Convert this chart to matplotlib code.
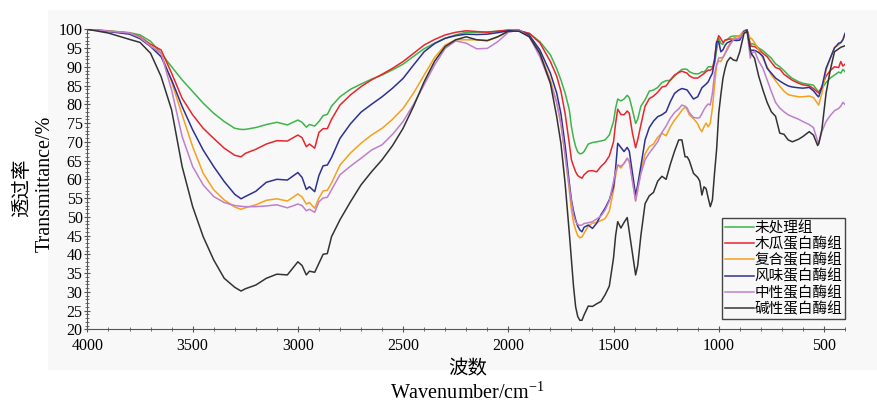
import matplotlib
matplotlib.use('Agg')
import matplotlib.pyplot as plt
from matplotlib.patches import Rectangle
from matplotlib.ticker import MultipleLocator

plt.rcParams['font.family'] = ['Liberation Serif', 'Noto Sans CJK SC']
plt.rcParams['mathtext.fontset'] = 'custom'
plt.rcParams['mathtext.rm'] = 'Liberation Serif'

# wavenumber grid (cm-1)
wn = [4000, 3900, 3800, 3750, 3700, 3650, 3600, 3550, 3500, 3450, 3400, 3350, 3300, 3270, 3250, 3200,
      3150, 3100, 3050, 3000, 2980, 2960, 2945, 2920, 2900, 2880, 2860, 2840, 2800, 2750, 2700, 2650,
      2600, 2550, 2500, 2450, 2400, 2350, 2300, 2250, 2200, 2150, 2100, 2050, 2000, 1950, 1900, 1850,
      1800, 1770, 1750, 1730, 1710, 1700, 1690, 1680, 1670, 1660, 1650, 1640, 1620, 1600, 1580, 1560,
      1540, 1520, 1500, 1490, 1480, 1465, 1450, 1435, 1425, 1410, 1395, 1385, 1370, 1350, 1330, 1310,
      1290, 1270, 1250, 1230, 1210, 1190, 1175, 1160, 1150, 1140, 1120, 1100, 1090, 1080, 1070, 1060,
      1050, 1040, 1030, 1020, 1010, 1000, 990, 980, 970, 960, 945, 930, 915, 900, 880, 865, 850, 845,
      830, 810, 790, 770, 750, 730, 710, 690, 670, 650, 620, 600, 570, 550, 530, 525, 510, 490, 470,
      450, 430, 420, 410, 400]

green = [100, 99.6, 99.1, 98.5, 96.8, 93.6, 90, 86.5, 83.4, 80.3, 77.6, 75.4, 73.6, 73.3, 73.3, 73.8,
         74.6, 75.2, 74.5, 75.8, 75.2, 73.9, 74.6, 74.2, 75.4, 77.0, 77.3, 79.5, 82.0, 84.0, 85.4, 86.7,
         87.8, 89.2, 90.7, 92.8, 94.8, 96.3, 97.6, 98.5, 99.2, 99.2, 99.3, 99.5, 99.7, 99.6, 98.9, 96.7,
         93.2, 89.5, 86.5, 83, 78.5, 74, 71, 68.7, 67.3, 66.8, 66.9, 67.4, 69.4, 69.8, 70, 70.2,
         70.5, 71.8, 75.4, 79, 81.4, 80.9, 81.4, 82.4, 81.8, 78.5, 74.9, 76, 79.5, 81.2, 83.5, 83.8,
         84.5, 85.8, 86.3, 86.4, 87.5, 88.6, 89.3, 89.4, 89.3, 88.7, 88.2, 88.1, 88.3, 88.7, 88.6, 89.2,
         90, 90, 90, 90.8, 94.5, 97.6, 96.2, 96, 97.2, 97.2, 98, 98.2, 98.2, 98.2, 99.6, 99.8, 95.8, 96.2,
         96.0, 95, 94.3, 93.3, 92.3, 90.8, 90, 89, 87.8, 86.9, 86, 85.6, 85.3, 85.1, 83.6, 83.4, 84.2, 85.8, 87,
         87.8, 88.6, 88.3, 89.3, 88.7]

red = [100, 99.5, 99, 98, 96, 94.5, 88.3, 81.6, 77.2, 73.6, 70.9, 68.3, 66.4, 66, 66.9, 68,
       69.4, 70.3, 70.2, 71.8, 71.1, 68.7, 69.4, 68.3, 72.5, 73.5, 73.5, 76, 79.8, 82.5, 84.7, 86.5,
       88, 89.6, 91.4, 93.6, 95.8, 97.3, 98.5, 99.2, 99.6, 99.4, 99.2, 99.5, 99.8, 99.6, 98.9, 96.4,
       91.4, 87.5, 83.5, 77.5, 69.5, 65.2, 63.5, 62, 61, 60.6, 60.3, 61.2, 62.2, 62.3, 62, 63.4,
       64.5, 66.2, 70, 74.9, 78.7, 77.3, 77.2, 78.2, 77.6, 72.3, 68.4, 70.5, 74.5, 79.5, 81.5, 82.2,
       83.2, 84.6, 84.9, 86.5, 87.8, 88.5, 88.8, 88.5, 88.3, 87.6, 87, 87, 87.4, 87.8, 88.2, 88.7,
       89.1, 89.1, 89.5, 92, 96.5, 98.3, 97.5, 96.5, 97, 97.3, 97.4, 97.4, 97.4, 97.6, 99.6, 99.8, 95.8, 95.5,
       95.4, 94.6, 93.6, 92.7, 91.2, 89.8, 89.4, 88, 87.2, 86.4, 85.6, 85.2, 84.9, 84.2, 83.2, 83, 84.7, 87.5, 89,
       90, 89.8, 91.4, 90.2, 90.7]

orange = [100, 99.5, 99, 97.8, 95.6, 93.6, 86, 77.2, 68.7, 61.6, 57.2, 54.5, 52.6, 52, 52.4, 53.2,
          54.4, 54.8, 54.2, 56.1, 55.3, 53.4, 53.8, 52.3, 55, 56.9, 57.1, 59, 63.8, 67, 69.6, 71.8,
          73.6, 76, 78.9, 83, 87.8, 92.5, 95.8, 97.2, 97.2, 97.2, 96.9, 98, 99.4, 99.8, 98.2, 93.6,
          86.5, 80.5, 74.5, 66.5, 57, 51.8, 48.5, 46.5, 45, 44.4, 44.6, 45.6, 47.5, 48.3, 48.5, 49,
          49.5, 51.5, 57, 61, 63.8, 63, 64.3, 65.6, 64.7, 59.8, 54.3, 57, 62, 66.8, 68.7, 69.4,
          71.2, 72.3, 71.6, 74, 75.8, 77.2, 78.4, 79.3, 78.6, 77.2, 76.2, 74.8, 73.5, 72.7, 74, 75,
          74, 75, 79, 85, 90.5, 91.6, 91.4, 92.5, 93.5, 95, 96.4, 97.6, 98, 98.3, 99.6, 99.6, 97.5, 97.6,
          96.5, 94.5, 92.3, 90, 87.8, 86.3, 84.8, 83.5, 82.6, 82.3, 82, 82, 82.2, 81.8, 80.2, 79.8, 82.9, 89.1, 92.3,
          95.2, 95.8, 96.5, 97.3, 98.5]

blue = [100, 99.4, 98.7, 97.5, 95.4, 92.7, 86.5, 79.4, 73.2, 67.8, 63.4, 59.4, 56, 54.8, 55.4, 56.8,
        59.2, 60, 59.8, 61.8, 60.5, 57.3, 58, 56.7, 61, 63.6, 63.8, 65.8, 70.9, 74.8, 77.9, 80,
        82, 84.3, 86.9, 90.5, 94, 96.2, 97.6, 98.3, 98.7, 98.6, 98.7, 99.1, 99.6, 99.8, 98.4, 94.5,
        88.3, 83, 77.5, 69, 59, 54.5, 51.5, 49.2, 47.5, 46.5, 46, 47.2, 47.8, 46.9, 48.3, 50.5,
        52.3, 54.5, 58, 63, 69.6, 68.5, 67.4, 68.5, 67.5, 61.6, 55.8, 58.5, 63.5, 70.5, 73.8, 75.5,
        76.7, 77.2, 78, 80.7, 82.9, 83.8, 84.2, 84, 83.8, 83, 81.4, 82, 83.2, 84.4, 84.9, 85.4,
        86, 87.2, 88.3, 91.5, 96.7, 96.7, 94, 94.5, 95.7, 96.4, 96.8, 97.1, 97, 97.1, 99.4, 99.8, 94.5, 94.4,
        94.4, 93.8, 92.8, 89.6, 88.3, 87, 86.2, 85.5, 84.9, 84.6, 84.4, 84.3, 84.5, 83.6, 82.2, 82, 84.5, 89.6, 92.3,
        95, 96.3, 96.4, 97.2, 98.9]

purple = [100, 99.5, 99, 97.8, 95.5, 93.6, 83.8, 71.4, 63.4, 58.5, 55.4, 53.8, 53, 52.8, 52.7, 52.7,
          52.9, 53.2, 52.4, 53.4, 53, 51.6, 52, 51.2, 54, 55, 55.2, 57.2, 61.2, 63.5, 65.6, 67.8,
          69.2, 72, 75.4, 80, 85.2, 90.5, 94.9, 96.9, 96.3, 94.8, 94.9, 96.7, 99.2, 99.8, 98, 92.7,
          85.6, 80.5, 75, 66.5, 58, 54, 50.5, 48.7, 48, 47.7, 47.8, 48.2, 48.4, 48.7, 49.4, 50.2,
          51.8, 54.2, 59.4, 62, 63.8, 63.5, 64.2, 65.6, 64.8, 59.5, 54.2, 57.5, 61.5, 65.2, 67, 68.5,
          70, 72.5, 74.2, 76.3, 77.8, 78.8, 79.8, 79.5, 79, 77.8, 76.5, 76.3, 76.5, 77.5, 78.6, 79.5,
          80.1, 79.8, 83, 88, 90.5, 92.3, 92.4, 92.5, 93.5, 94.5, 96, 97.2, 97.5, 97.7, 99.2, 99.4, 92.3, 93.5,
          94.2, 91.5, 89.6, 86.5, 83.4, 80.5, 79, 78, 77.2, 76.7, 76, 75.4, 74.6, 73.8, 70.2, 69.4, 72.7, 75.4, 77,
          78.3, 78.9, 79.5, 80.5, 80]

black = [100, 99, 97.3, 96.5, 93.6, 87.4, 78.5, 63.4, 52.7, 44.7, 38.5, 33.6, 31.2, 30.2, 30.8, 31.8,
         33.6, 34.7, 34.5, 38, 37, 34.5, 35.5, 35.2, 37.6, 40, 40.2, 44.7, 49.2, 54, 58.5, 62,
         65.2, 69, 73.6, 79.5, 86, 91.5, 95.4, 97.2, 98, 97.2, 97, 98, 99.5, 99.5, 98, 93.6,
         85.6, 76.7, 69.6, 58.9, 45.6, 38.5, 31.4, 26, 23.4, 22.4, 22.4, 23.8, 26.2, 26.1, 26.8, 27.4,
         29.2, 31.5, 39, 45, 48.7, 47, 48.5, 49.8, 46, 40.3, 34.5, 37, 45, 53.5, 55.6, 56.5,
         59.5, 60.8, 60, 64, 67.5, 70.5, 70.5, 66, 66, 65, 61.6, 60.5, 59.5, 55.8, 58, 57.5,
         55, 52.7, 54.5, 61.6, 68, 77.6, 82.5, 86.9, 89.5, 91.4, 92.5, 91.8, 91.6, 94, 98.9, 99.4, 94.5, 93.5,
         92.3, 87.5, 83.8, 80.5, 78, 76.8, 72.3, 72, 70.5, 70, 70.7, 71.4, 72.7, 71.8, 69, 69.5, 73.2, 82.9, 89.1,
         94, 94.8, 95.2, 95.4, 95.6]

labels = ['未处理组', '木瓜蛋白酶组', '复合蛋白酶组', '风味蛋白酶组', '中性蛋白酶组', '碱性蛋白酶组']
colors = ['#3db54a', '#e8262d', '#f4a11e', '#2e3192', '#bf7fcf', '#333333']
series = [green, red, orange, blue, purple, black]

fig = plt.figure(figsize=(8.77, 4.04), dpi=100)
# light grey panel behind the plot
bg = Rectangle((0.055, 0.084), 0.945, 0.891, transform=fig.transFigure,
               facecolor='#f8f8f8', edgecolor='none', zorder=-10)
fig.add_artist(bg)
ax = fig.add_axes([0.0997, 0.1849, 0.8638, 0.7426])
ax.set_facecolor('#f8f8f8')

for y, c, lab in zip(series, colors, labels):
    ax.plot(wn, y, color=c, lw=1.1, label=lab)

ax.set_xlim(4000, 400)
ax.set_ylim(20, 100)
ax.xaxis.set_major_locator(MultipleLocator(500))
ax.xaxis.set_minor_locator(MultipleLocator(100))
ax.yaxis.set_major_locator(MultipleLocator(5))
ax.yaxis.set_minor_locator(MultipleLocator(1))
ax.tick_params(which='both', direction='inout', color='#555555', labelsize=11.5)
ax.tick_params(axis='y', pad=1.5)
ax.tick_params(axis='x', pad=4)
ax.tick_params(which='major', length=4, width=0.8)
ax.tick_params(which='minor', length=2.5, width=0.6)
ax.spines['top'].set_visible(False)
ax.spines['right'].set_visible(False)
for s in ['left', 'bottom']:
    ax.spines[s].set_color('#555555')
    ax.spines[s].set_linewidth(0.8)

fig.text(0.025, 0.535, '透过率', rotation=90, ha='center', va='center', fontsize=14)
fig.text(0.052, 0.545, 'Transmittance/%', rotation=90, ha='center', va='center', fontsize=14.5)
fig.text(0.533, 0.085, '波数', ha='center', va='center', fontsize=14)
fig.text(0.533, 0.027, 'Wavenumber/cm$^{-1}$', ha='center', va='center', fontsize=14.5)

leg = ax.legend(loc='lower right', bbox_to_anchor=(1.0, 0.034), borderaxespad=0,
                fontsize=10.5, handlelength=1.95, handletextpad=0.05, labelspacing=0.12,
                borderpad=0.2, fancybox=False, framealpha=1, facecolor='#f8f8f8',
                edgecolor='#444444')
leg.get_frame().set_linewidth(1.0)

plt.savefig('out.png', dpi=100)
